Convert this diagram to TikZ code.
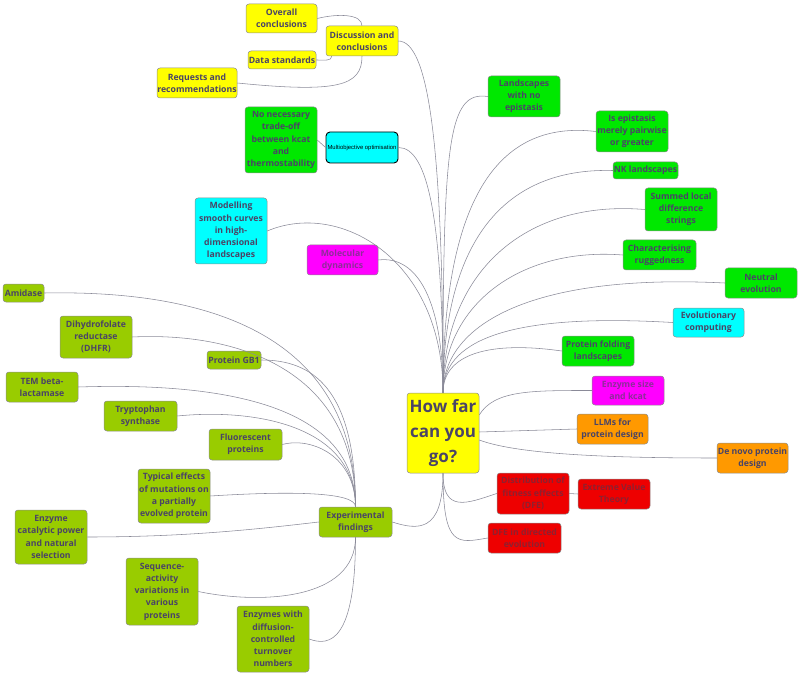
\documentclass[tikz,border=0pt]{standalone}
\usepackage{fontspec}
\setmainfont{Open Sans}
\newfontfamily\arialish{Liberation Sans}
\definecolor{cyel}{HTML}{FFFF00}
\definecolor{cgrn}{HTML}{00E800}
\definecolor{ccya}{HTML}{00FFFF}
\definecolor{cmag}{HTML}{FF00FF}
\definecolor{cora}{HTML}{FF9900}
\definecolor{cred}{HTML}{EE0000}
\definecolor{coli}{HTML}{99CC00}
\definecolor{txt}{HTML}{4A4466}
\definecolor{redtxt}{HTML}{8E2030}
\definecolor{magtxt}{HTML}{8E2C9A}
\definecolor{bord}{HTML}{8C8C8C}
\definecolor{linkc}{HTML}{8A8A98}
\tikzset{
  box/.style={draw=bord, line width=0.5pt, rounded corners=3pt, inner sep=0pt,
    align=center, font=\bfseries\fontsize{8.7}{12.2}\selectfont, text=txt},
  yel/.style={fill=cyel}, grn/.style={fill=cgrn}, cya/.style={fill=ccya},
  mag/.style={fill=cmag, text=magtxt}, ora/.style={fill=cora},
  red/.style={fill=cred, text=redtxt}, oli/.style={fill=coli},
  link/.style={draw=linkc, line width=0.55pt}
}
\newcommand\nbox[7]{\node[box,#6,minimum width={#4-#2},minimum height={#5-#3}] (#1) at ({(#2+#4)/2},{(#3+#5)/2}) {#7};}
\begin{document}
\begin{tikzpicture}[x=1pt,y=-1pt]
\useasboundingbox (0,0) rectangle (800,676);
% root
\node[box,yel,minimum width=72,minimum height=80,font=\bfseries\fontsize{17}{25}\selectfont] (r) at (443,433) {How far\\can you\\go?};
% discussion group
\nbox{disc}{326}{26}{398}{56}{yel}{Discussion and\\conclusions}
\nbox{over}{246}{4}{317}{33}{yel}{Overall\\conclusions}
\nbox{data}{248}{51}{316}{69}{yel}{Data standards}
\nbox{req}{157}{68}{237}{98}{yel}{Requests and\\recommendations}
% left upper
\nbox{trade}{245}{107}{317}{173}{grn}{No necessary\\trade-off\\between kcat\\and\\thermostability}
\node[draw=black,line width=0.9pt,rounded corners=4pt,fill=ccya,inner sep=0pt,minimum width=72,minimum height=31,font=\arialish\fontsize{5.9}{6.5}\selectfont] (mo) at (362,147.5) {Multiobjective optimisation};
\nbox{model}{195}{198}{267}{264}{cya}{Modelling\\smooth curves\\in high-\\dimensional\\landscapes}
\nbox{md}{307}{245}{378}{275}{mag}{Molecular\\dynamics}
% right
\nbox{land}{488}{76}{560}{117}{grn}{Landscapes\\with no\\epistasis}
\nbox{epi}{596}{111}{668}{152}{grn}{Is epistasis\\merely pairwise\\or greater}
\nbox{nk}{613}{162}{678}{179}{grn}{NK landscapes}
\nbox{sum}{645}{188}{717}{231}{grn}{Summed local\\difference\\strings}
\nbox{rug}{623}{240}{696}{270}{grn}{Characterising\\ruggedness}
\nbox{neu}{725}{268}{797}{298}{grn}{Neutral\\evolution}
\nbox{evo}{673}{308}{744}{337}{cya}{Evolutionary\\computing}
\nbox{fold}{562}{336}{634}{366}{grn}{Protein folding\\landscapes}
\nbox{size}{592}{376}{664}{405}{mag}{Enzyme size\\and kcat}
\nbox{llm}{577}{414}{648}{444}{ora}{LLMs for\\protein design}
\nbox{dn}{717}{443}{788}{473}{ora}{De novo protein\\design}
\nbox{dfe}{497}{473}{569}{514}{red}{Distribution of\\fitness effects\\(DFE)}
\nbox{evt}{578}{479}{650}{509}{red}{Extreme Value\\Theory}
\nbox{dfed}{488}{523}{561}{553}{red}{DFE in directed\\evolution}
% experimental
\nbox{exp}{319}{507}{392}{537}{oli}{Experimental\\findings}
\nbox{ami}{3}{284}{44}{302}{oli}{Amidase}
\nbox{dhfr}{60}{316}{132}{358}{oli}{Dihydrofolate\\reductase\\(DHFR)}
\nbox{gb}{207}{351}{261}{369}{oli}{Protein GB1}
\nbox{tem}{6}{372}{78}{402}{oli}{TEM beta-\\lactamase}
\nbox{trp}{104}{401}{177}{431}{oli}{Tryptophan\\synthase}
\nbox{flu}{209}{429}{282}{460}{oli}{Fluorescent\\proteins}
\nbox{typ}{138}{469}{210}{523}{oli}{Typical effects\\of mutations on\\a partially\\evolved protein}
\nbox{eca}{15}{510}{87}{564}{oli}{Enzyme\\catalytic power\\and natural\\selection}
\nbox{seq}{126}{558}{198}{625}{oli}{Sequence-\\activity\\variations in\\various\\proteins}
\nbox{diff}{237}{606}{309}{672}{oli}{Enzymes with\\diffusion-\\controlled\\turnover\\numbers}
% ---- connectors: root top, right
\draw[link] (r.north) .. controls +(0,-250) and +(-40,-6) .. (land.west);
\draw[link] (r.north) .. controls +(0,-190) and +(-100,-12) .. (epi.west);
\draw[link] (r.north) .. controls +(0,-150) and +(-110,-3) .. (nk.west);
\draw[link] (r.north) .. controls +(0,-120) and +(-120,-10) .. (sum.west);
\draw[link] (r.north) .. controls +(0,-90) and +(-100,-8) .. (rug.west);
\draw[link] (r.north) .. controls +(0,-65) and +(-200,-10) .. (neu.west);
\draw[link] (r.north) .. controls +(0,-50) and +(-170,-10) .. (evo.west);
\draw[link] (r.north) .. controls +(0,-40) and +(-70,-10) .. (fold.west);
% root top, left
\draw[link] (r.north) .. controls +(0,-250) and +(30,0) .. (disc.east);
\draw[link] (r.north) .. controls +(0,-170) and +(30,0) .. (mo.east);
\draw[link] (r.north) .. controls +(0,-133) and +(73,-31) .. (model.east);
\draw[link] (r.north) .. controls +(0,-90) and +(40,-5) .. (md.east);
% root right
\draw[link] ([yshift=18pt]r.east) .. controls +(15,-25) and +(-60,0) .. (size.west);
\draw[link] ([yshift=1pt]r.east) -- (llm.west);
\draw[link] ([yshift=-7pt]r.east) .. controls +(40,15) and +(-100,0) .. (dn.west);
% root bottom
\draw[link] (r.south) .. controls +(0,60) and +(25,8) .. (exp.east);
\draw[link] (r.south) .. controls +(0,40) and +(-30,10) .. (dfe.west);
\draw[link] (r.south) .. controls +(0,75) and +(-30,5) .. (dfed.west);
\draw[link] (dfe.east) -- (evt.west);
% discussion children
\draw[link] (disc.north) .. controls +(0,-12) and +(20,-5) .. (over.east);
\draw[link] ([xshift=6pt]disc.south west) .. controls +(0,5) and +(8,0) .. (data.east);
\draw[link] (disc.south) .. controls +(0,30) and +(100,10) .. (req.east);
\draw[link] (trade.east) -- (mo.west);
% experimental children
\draw[link] (exp.north) .. controls +(0,-177) and +(156,-3) .. (ami.east);
\draw[link] (exp.north) .. controls +(0,-140) and +(100,-5) .. (dhfr.east);
\draw[link] (exp.north) .. controls +(0,-120) and +(50,0) .. (gb.east);
\draw[link] (exp.north) .. controls +(0,-100) and +(150,-5) .. (tem.east);
\draw[link] (exp.north) .. controls +(0,-80) and +(80,-8) .. (trp.east);
\draw[link] (exp.north) .. controls +(0,-50) and +(30,-8) .. (flu.east);
\draw[link] (exp.north) .. controls +(0,-15) and +(80,-5) .. (typ.east);
\draw[link] (exp.west) .. controls +(-60,7) and +(100,0) .. (eca.east);
\draw[link] (exp.south) .. controls +(0,63) and +(62,13) .. (seq.east);
\draw[link] (exp.south) .. controls +(0,103) and +(21,8) .. (diff.east);
\end{tikzpicture}
\end{document}
